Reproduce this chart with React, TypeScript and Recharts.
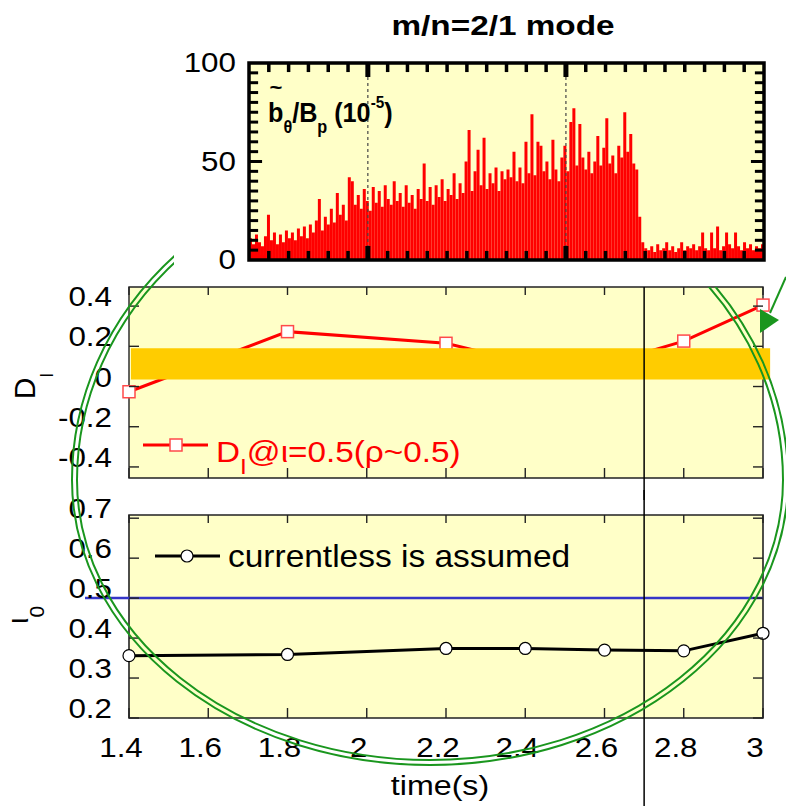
import React from 'react';
import {
  BarChart, Bar, LineChart, Line, XAxis, YAxis, CartesianGrid,
  ReferenceLine, ReferenceArea,
} from 'recharts';

// m/n=2/1 mode amplitude, one value per ~3 px slice from 1.7 s to 3.0 s
const fluctAmp = [
  11, 8, 13, 9, 7, 12, 23, 10, 14, 8, 13, 9, 15, 11, 14, 10, 16,
  12, 17, 11, 18, 14, 20, 31, 15, 22, 18, 26, 19, 34, 23, 28, 20, 42,
  40, 28, 33, 26, 36, 30, 25, 37, 29, 35, 27, 38, 31, 28, 40, 30, 34, 27, 38, 29, 33, 26, 36, 31, 49, 30, 37, 28, 38, 32, 41, 30, 36,
  33, 44, 31, 39, 34, 50, 66, 35, 45, 56, 38, 62, 36, 44, 39, 47, 35, 45, 41, 46,
  42, 55, 40, 47, 39, 60, 44, 74, 43, 60, 58, 45, 50, 41, 61, 46, 40, 52, 58, 45, 70, 77, 48, 69, 52, 46, 55, 44, 50, 63, 48, 57, 72, 49, 53, 44, 58, 52, 75, 55, 64, 49, 46, 22,
  9, 6, 5, 7, 4, 8, 5, 6, 9, 5, 7, 4, 6, 9, 5, 7, 6, 8, 5, 7, 14, 6, 5, 14, 6, 17, 5, 7, 14, 8, 6, 14, 7, 5, 9, 6, 8, 5, 7, 6, 8,
];
const fluctTimeMarks = Array.from({ length: 25 }, (_, k) => +(1.75 + 0.05 * k).toFixed(2));
const fluctYMarks = Array.from({ length: 19 }, (_, k) => (k + 1) * 5);
const fluctYLabels = [0, 50, 100];

const times = [1.4, 1.8, 2.2, 2.4, 2.6, 2.8, 3.0];
const dI = [-0.026, 0.273, 0.215, 0.12, 0.11, 0.226, 0.405];
const iota0 = [0.356, 0.359, 0.374, 0.374, 0.37, 0.368, 0.412];
const timeTicks = [1.4, 1.6, 1.8, 2, 2.2, 2.4, 2.6, 2.8, 3];
const dITicks = [-0.4, -0.2, 0, 0.2, 0.4];
const iotaTicks = [0.2, 0.3, 0.4, 0.5, 0.6, 0.7];

const fluctData = fluctAmp.map((v, i) => ({ i, v }));
const dIData = times.map((t, i) => ({ t, d: dI[i] }));
const iotaData = times.map((t, i) => ({ t, iota: iota0[i] }));

const FONT = "'Liberation Sans', Arial, Helvetica, sans-serif";
const YELLOW = '#ffffc8';

const St = ({ x, y, sx = 1.12, rot = 0, children, ...rest }: any) => (
  <text
    transform={`translate(${x},${y})${rot ? ` rotate(${rot})` : ''} scale(${sx},1)`}
    fontFamily={FONT}
    {...rest}
  >
    {children}
  </text>
);

const FluctYTick = ({ x, y, payload }: any) => (
  <St x={x - 13} y={y + 9} textAnchor="end" fontSize={28}>{payload.value}</St>
);

// lower panels ticks
const makeYTick = (plotW: number) => ({ x, y, payload }: any) => (
  <g>
    <line x1={x} x2={x + 10} y1={y} y2={y} stroke="#222" strokeWidth={1.4} />
    <line x1={x + plotW - 10} x2={x + plotW} y1={y} y2={y} stroke="#222" strokeWidth={1.4} />
    <St x={x - 17} y={y} textAnchor="end" fontSize={28}>{payload.value}</St>
  </g>
);
const LowYTick = makeYTick(634);

const makeXTick = (plotH: number, labels: boolean) => ({ x, y, payload }: any) => (
  <g>
    <line x1={x} x2={x} y1={y} y2={y - 10} stroke="#222" strokeWidth={1.4} />
    <line x1={x} x2={x} y1={y - plotH} y2={y - plotH + 8} stroke="#222" strokeWidth={1.4} />
    {labels && (
      <St x={x - 8} y={y + 39} textAnchor="middle" fontSize={28}>{payload.value}</St>
    )}
  </g>
);
const MidXTick = makeXTick(191, false);
const BotXTick = makeXTick(203, true);

const SquareDot = (p: any) => (
  <rect key={`sq-${p.index}`} x={p.cx - 6} y={p.cy - 6} width={12} height={12}
    fill="#fff" stroke="#ff4a4a" strokeWidth={1.5} />
);

const vLine = (up: number, down: number) => (p: any) => (
  <line x1={p.x1} x2={p.x2}
    y1={Math.min(p.y1, p.y2) - up} y2={Math.max(p.y1, p.y2) + down}
    stroke="#000" strokeWidth={1.5} />
);

// tick marks of the top frame, inward, in data units (1 s = 396 px, 1 unit = 1.97 px)
const topXMarks = fluctTimeMarks.flatMap((t) => {
  const major = t === 2 || t === 2.5;
  const h = major ? 7.1 : 4.6;
  const w = major ? 5 : 3.5;
  return [
    <ReferenceLine key={`xb${t}`} xAxisId="t" segment={[{ x: t, y: 0 }, { x: t, y: h }]}
      stroke="#000" strokeWidth={w} zIndex={550} />,
    <ReferenceLine key={`xt${t}`} xAxisId="t" segment={[{ x: t, y: 100 }, { x: t, y: 100 - h }]}
      stroke="#000" strokeWidth={w} zIndex={550} />,
  ];
});
const topYMarks = fluctYMarks.flatMap((v) => {
  const len = v === 50 ? 0.033 : 0.023;
  return [
    <ReferenceLine key={`yl${v}`} xAxisId="t" segment={[{ x: 1.7, y: v }, { x: 1.7 + len, y: v }]}
      stroke="#000" strokeWidth={3} zIndex={550} />,
    <ReferenceLine key={`yr${v}`} xAxisId="t" segment={[{ x: 3.0 - len, y: v }, { x: 3.0, y: v }]}
      stroke="#000" strokeWidth={3} zIndex={550} />,
  ];
});

const TopPanel = () => (
  <BarChart width={786} height={280} data={fluctData}
    margin={{ top: 63, right: 22, bottom: 20, left: 0 }}
    barCategoryGap={0} barGap={0}>
    <CartesianGrid fill={YELLOW} horizontal={false} vertical={false} />
    <XAxis xAxisId="t" dataKey="t" type="number" domain={[1.7, 3.0]} allowDataOverflow hide height={0} />
    <XAxis xAxisId="bars" dataKey="i" hide height={0} />
    <YAxis width={249} type="number" domain={[0, 100]} allowDataOverflow
      ticks={fluctYLabels} interval={0} tickSize={0} tickMargin={0}
      axisLine={false} tickLine={false} tick={FluctYTick} />
    <Bar xAxisId="bars" dataKey="v" fill="#ff0000" isAnimationActive={false} />
    <ReferenceLine xAxisId="t" x={2.0} stroke="#444" strokeWidth={1.2} strokeDasharray="3 3" zIndex={350} />
    <ReferenceLine xAxisId="t" x={2.5} stroke="#444" strokeWidth={1.2} strokeDasharray="3 3" zIndex={350} />
    {topXMarks}
    {topYMarks}
    <ReferenceArea xAxisId="t" x1={1.7} x2={3.0} y1={0} y2={100}
      fill="none" stroke="#000" strokeWidth={3.5} zIndex={600} />
  </BarChart>
);

const MidPanel = () => (
  <LineChart width={786} height={220} data={dIData}
    margin={{ top: 7, right: 23, bottom: 21, left: 0 }}>
    <CartesianGrid fill={YELLOW} horizontal={false} vertical={false} />
    <XAxis dataKey="t" type="number" domain={[1.4, 3.0]} ticks={timeTicks} interval={0}
      height={1} tickSize={0} tickMargin={0} axisLine={false} tickLine={false} tick={MidXTick} />
    <YAxis width={129} type="number" domain={[-0.455, 0.495]} allowDataOverflow
      ticks={dITicks} interval={0} tickSize={0} tickMargin={0}
      axisLine={false} tickLine={false} tick={LowYTick} />
    <ReferenceArea x1={1.4} x2={3.0} y1={-0.455} y2={0.495}
      fill="none" stroke="#222" strokeWidth={1.4} zIndex={300} />
    <Line dataKey="d" stroke="#ff0000" strokeWidth={3} dot={SquareDot} isAnimationActive={false} />
    <ReferenceArea x1={1.405} x2={3.018} y1={0.035} y2={0.19} ifOverflow="visible"
      fill="#ffcc00" fillOpacity={1} stroke="none" zIndex={1500} />
    <ReferenceLine x={2.7} shape={vLine(0, 22)} zIndex={1510} />
  </LineChart>
);

const BotPanel = () => (
  <LineChart width={786} height={316} data={iotaData}
    margin={{ top: 25, right: 23, bottom: 87, left: 0 }}>
    <CartesianGrid fill={YELLOW} horizontal={false} vertical={false} />
    <XAxis dataKey="t" type="number" domain={[1.4, 3.0]} ticks={timeTicks} interval={0}
      height={1} tickSize={0} tickMargin={0} axisLine={false} tickLine={false} tick={BotXTick} />
    <YAxis width={129} type="number" domain={[0.2, 0.708]} allowDataOverflow
      ticks={iotaTicks} interval={0} tickSize={0} tickMargin={0}
      axisLine={false} tickLine={false} tick={LowYTick} />
    <ReferenceArea x1={1.4} x2={3.0} y1={0.2} y2={0.708}
      fill="none" stroke="#222" strokeWidth={1.6} zIndex={300} />
    <ReferenceLine segment={[{ x: 1.289, y: 0.5 }, { x: 3.0, y: 0.5 }]} ifOverflow="visible"
      stroke="#3535c8" strokeWidth={2.5} zIndex={350} />
    <Line dataKey="iota" stroke="#000" strokeWidth={3}
      dot={{ r: 6, fill: '#fff', stroke: '#000', strokeWidth: 1.2 }} isAnimationActive={false} />
    <ReferenceLine x={2.7} shape={vLine(25, 88)} zIndex={1510} />
  </LineChart>
);

const Overlay = () => (
  <svg width={786} height={806} style={{ position: 'absolute', left: 0, top: 0, pointerEvents: 'none' }}>
    <defs>
      <clipPath id="ovalClip">
        <rect x={0} y={0} width={174} height={806} />
        <rect x={0} y={287} width={786} height={519} />
      </clipPath>
    </defs>
    <St x={503} y={35} textAnchor="middle" fontWeight="bold" fontSize={28} sx={1.19}>m/n=2/1 mode</St>

    <St x={276} y={94} textAnchor="middle" fontWeight="bold" fontSize={20} sx={1.1}>~</St>
    <St x={268} y={122} fontWeight="bold" fontSize={28} sx={0.9}>
      <tspan>b</tspan>
      <tspan fontSize={18} dy={11}>θ</tspan>
      <tspan dy={-11}>/B</tspan>
      <tspan fontSize={18} dy={11}>p</tspan>
      <tspan dy={-11}> (10</tspan>
      <tspan fontSize={17} dy={-14}>-5</tspan>
      <tspan dy={14}>)</tspan>
    </St>

    <St x={35} y={386} rot={-90} sx={1} textAnchor="middle" fontSize={30}>
      <tspan>D</tspan>
      <tspan fontSize={18} dy={18}>I</tspan>
    </St>
    <St x={28} y={615} rot={-90} sx={1} textAnchor="middle" fontSize={29}>
      <tspan>ι</tspan>
      <tspan fontSize={21} dy={16}>0</tspan>
    </St>
    <St x={440} y={795} textAnchor="middle" fontSize={28} sx={1.15}>time(s)</St>

    <line x1={143} x2={208} y1={445} y2={445} stroke="#ff0000" strokeWidth={3} />
    <rect x={170} y={439} width={12} height={12} fill="#fff" stroke="#ff4a4a" strokeWidth={1.5} />
    <St x={216} y={462} fontSize={30} sx={1.11} fill="#ff0000">
      <tspan>D</tspan>
      <tspan fontSize={22} dy={12}>I</tspan>
      <tspan dy={-12}>@ι=0.5(ρ~0.5)</tspan>
    </St>

    <line x1={155} x2={220} y1={556} y2={556} stroke="#000" strokeWidth={3} />
    <circle cx={187} cy={556} r={6} fill="#fff" stroke="#000" strokeWidth={1.2} />
    <St x={228} y={567} fontSize={31} sx={1.08}>currentless is assumed</St>

    <g clipPath="url(#ovalClip)" fill="none" stroke="#1a961e" strokeWidth={2}>
      <path d="M 72 480 A 358 320 0 0 1 788 480 A 358 285 0 0 1 72 480 Z" />
      <path d="M 77 480 A 353 315 0 0 1 783 480 A 353 280 0 0 1 77 480 Z" />
    </g>
    <line x1={786} y1={277} x2={770} y2={313} stroke="#1a961e" strokeWidth={2} />
    <polygon points="760,309 760,333 779,320" fill="#1a961e" />
  </svg>
);

export default function App() {
  return (
    <div style={{ position: 'absolute', left: 0, top: 0, width: 786, height: 806, background: '#fff', fontFamily: FONT }}>
      <div style={{ position: 'absolute', left: 0, top: 0 }}><TopPanel /></div>
      <div style={{ position: 'absolute', left: 0, top: 280 }}><MidPanel /></div>
      <div style={{ position: 'absolute', left: 0, top: 490 }}><BotPanel /></div>
      <Overlay />
    </div>
  );
}
